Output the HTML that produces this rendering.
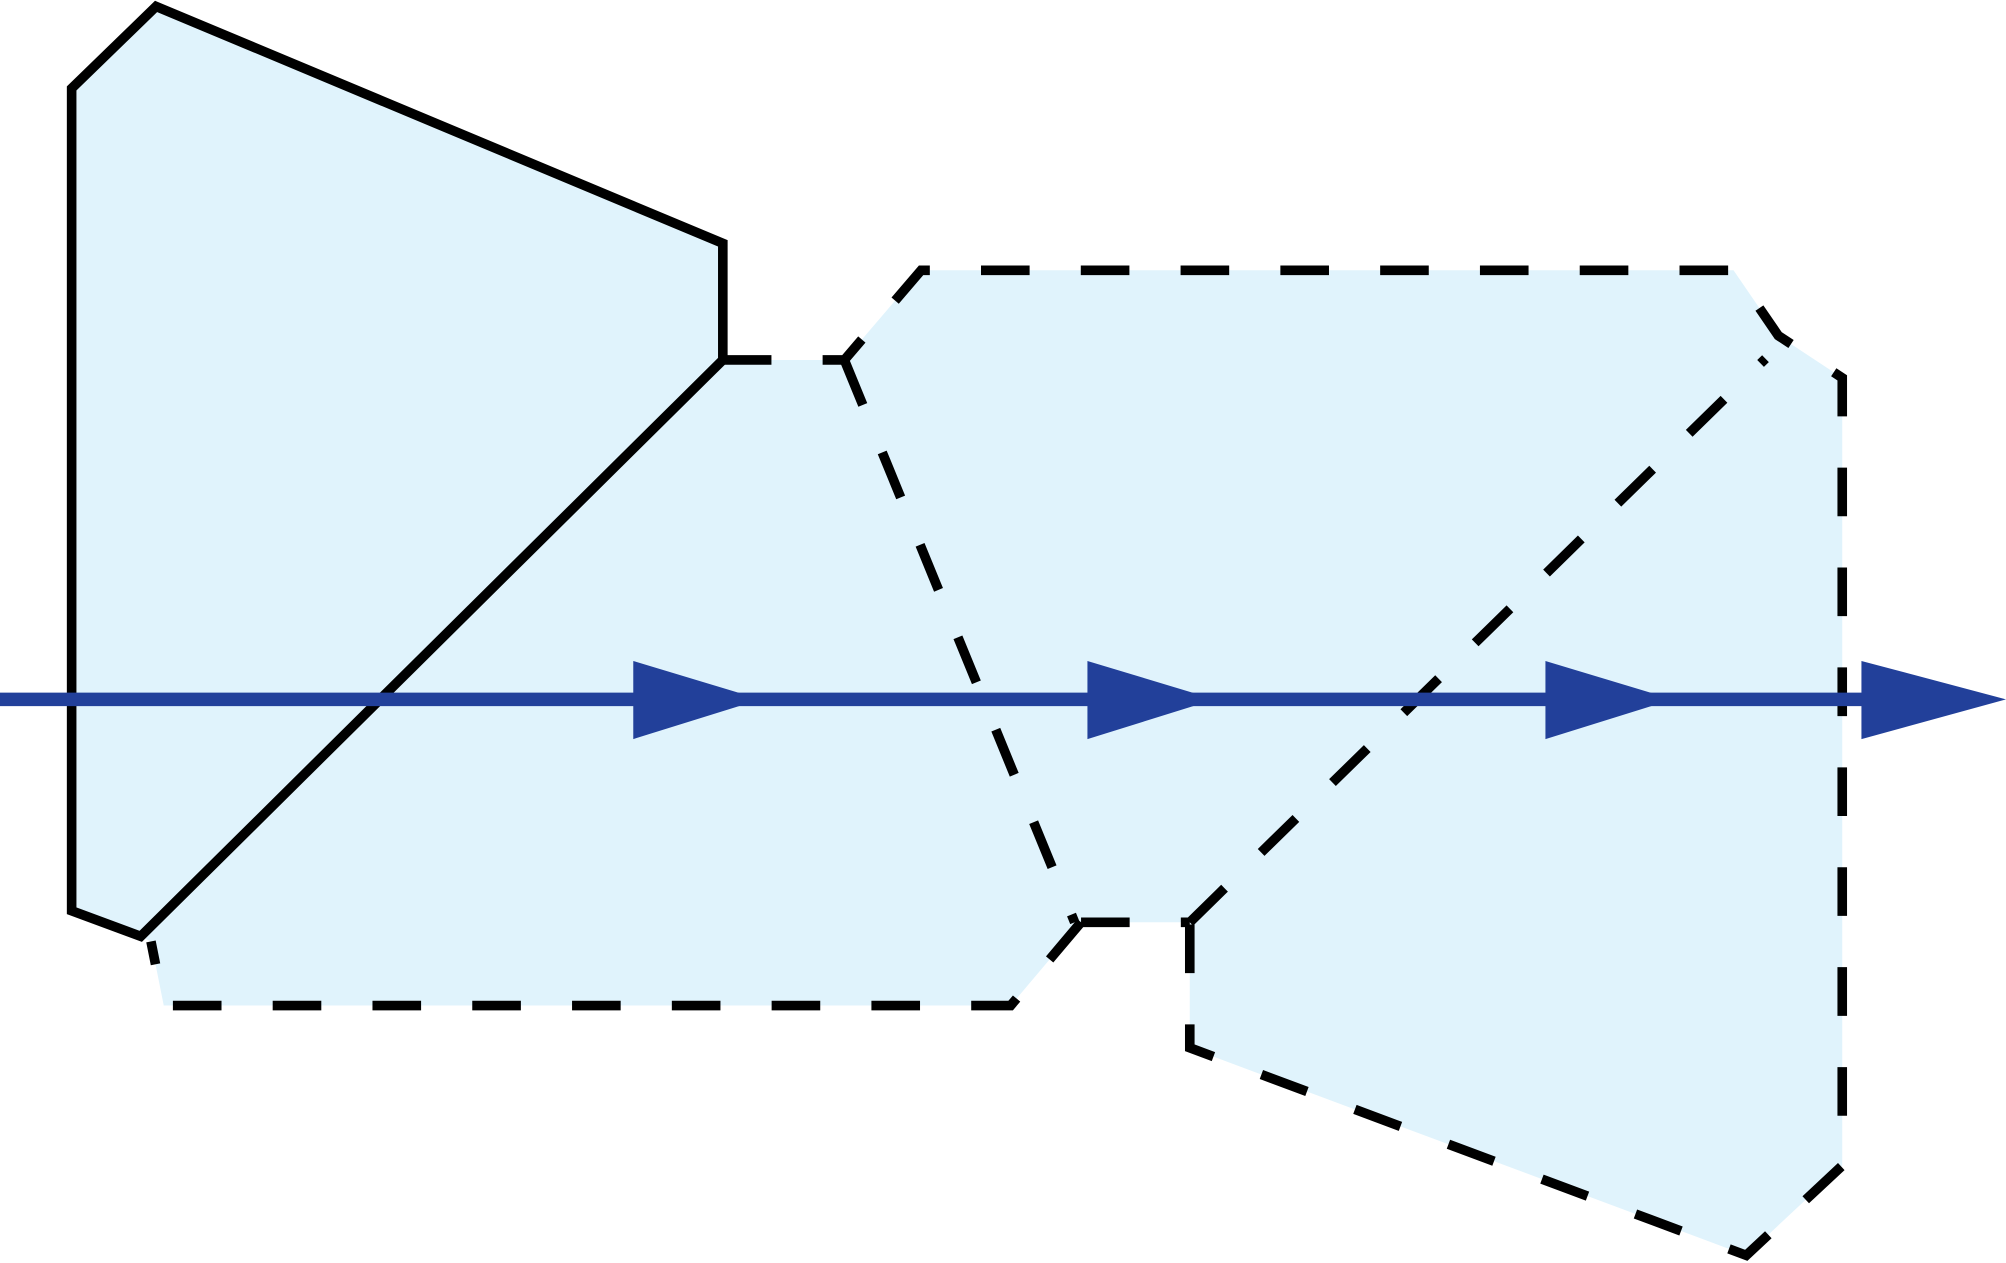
<!DOCTYPE html>
<html><head><meta charset="utf-8"><style>
html,body{margin:0;padding:0;background:#fff;}
svg{display:block;}
</style></head><body>
<svg width="2006" height="1263" viewBox="0 0 1568 986" preserveAspectRatio="none" xmlns="http://www.w3.org/2000/svg">
<polygon points="565,281 660,281 720,211 1355,211 1390,262 1440,295 1440,910 1365,980 930,818 930,720 845,720 790,785 128,785 118,735 110,731" fill="#e0f3fc"/>
<polygon points="122,5 565,190 565,281 110,731 56,711 56,69" fill="#e0f3fc" stroke="#000" stroke-width="7.5"/>
<g fill="none" stroke="#000" stroke-width="7.5" stroke-dasharray="38,40">
<polyline points="565,281 660,281 720,211 1355,211 1390,262 1440,295 1440,910 1365,980 930,818 930,720"/>
<polyline points="845,720 790,785 128,785 118,735"/>
<line x1="660" y1="281" x2="840" y2="720"/>
<line x1="930" y1="720" x2="1380" y2="280"/>
<line x1="845" y1="720" x2="930" y2="720"/>
</g>
<line x1="0" y1="546" x2="1460" y2="546" stroke="#22409a" stroke-width="10.5"/>
<g fill="#22409a">
<polygon points="495,516 588,544 588,548 495,577"/>
<polygon points="850,516 943,544 943,548 850,577"/>
<polygon points="1208,516 1301,544 1301,548 1208,577"/>
<polygon points="1455,516 1568,546 1455,577"/>
</g>
</svg>
</body></html>
